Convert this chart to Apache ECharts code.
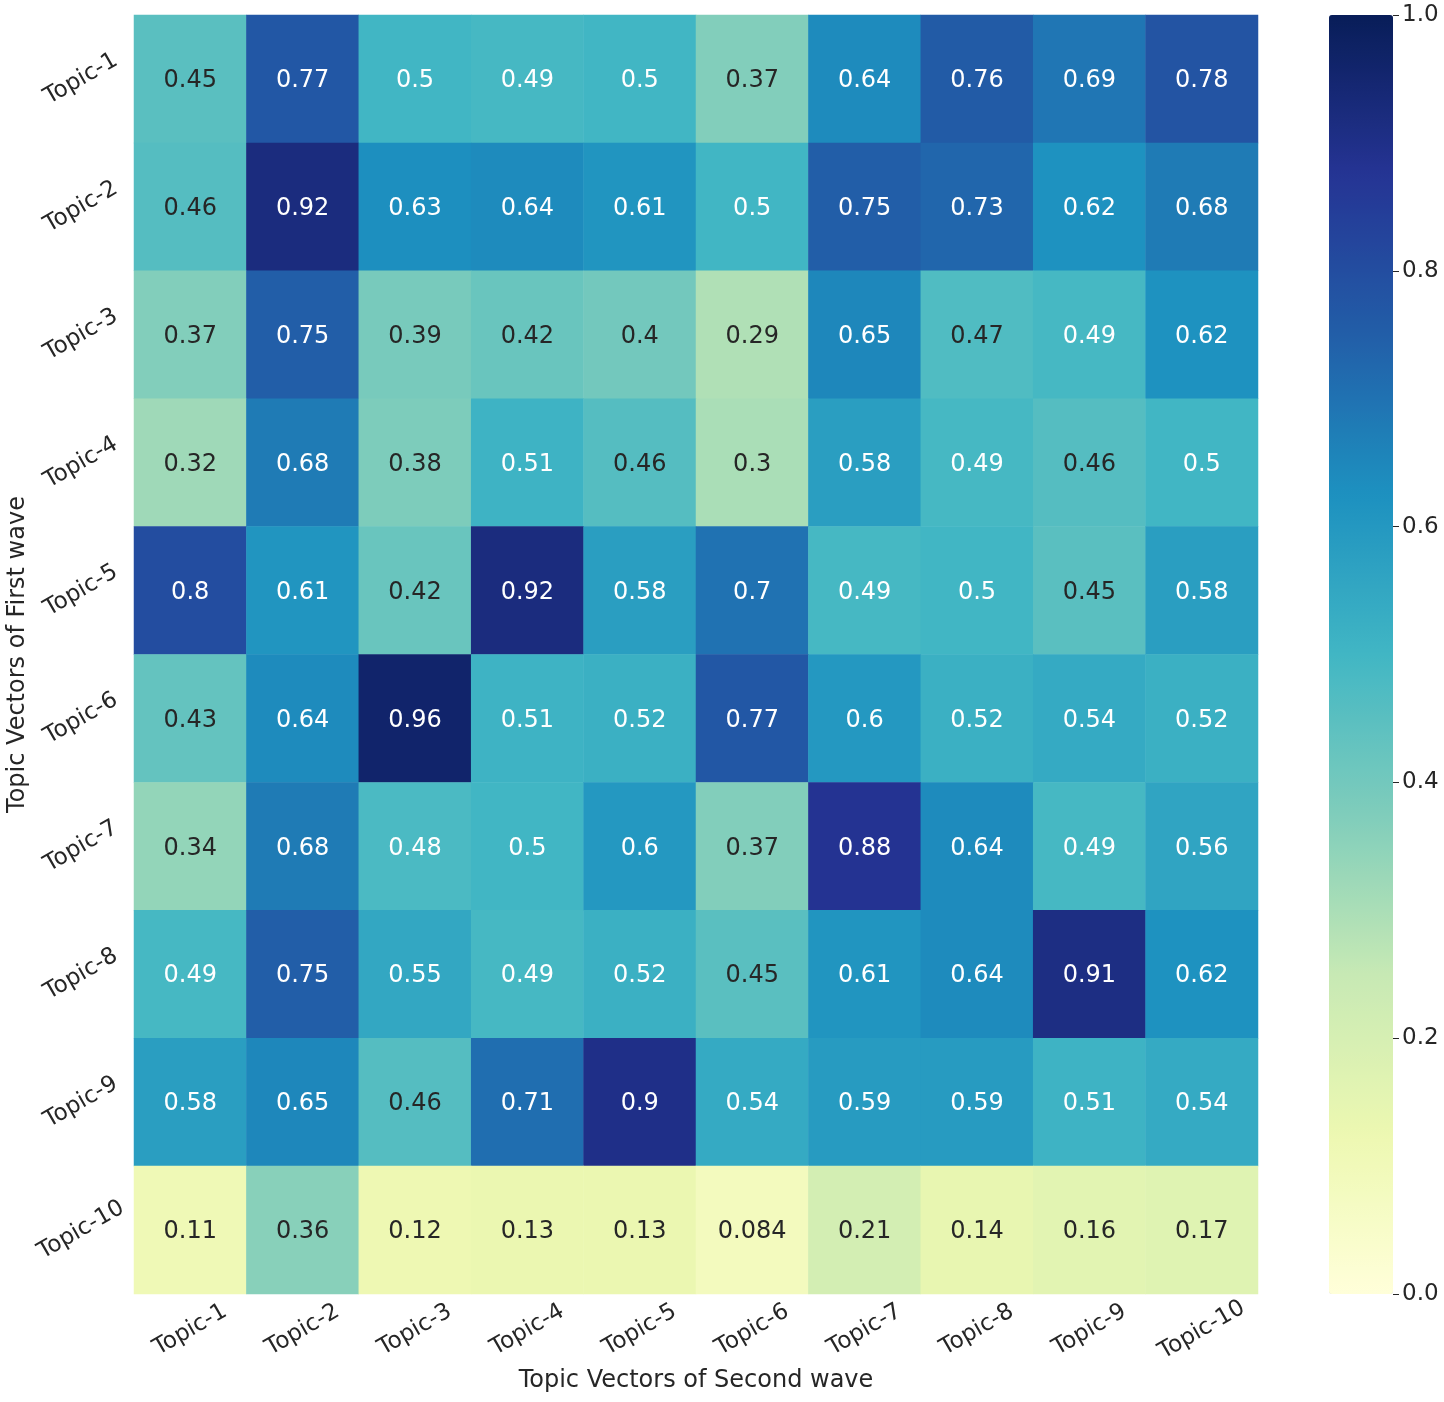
<!DOCTYPE html>
<html lang="en">
<head>
  <meta charset="UTF-8">
  <title>Topic vector similarity</title>
  <script src="https://cdn.jsdelivr.net/npm/echarts@6/dist/echarts.min.js"></script>
  <style>
    html, body { margin: 0; padding: 0; background: #fff; }
    #chart { width: 1444px; height: 1402px; }
  </style>
</head>
<body>
  <div id="chart"></div>
  <script>
    // categories
    const colTopics = ['Topic-1','Topic-2','Topic-3','Topic-4','Topic-5','Topic-6','Topic-7','Topic-8','Topic-9','Topic-10'];
    const rowTopics = ['Topic-1','Topic-2','Topic-3','Topic-4','Topic-5','Topic-6','Topic-7','Topic-8','Topic-9','Topic-10'];
    // similarity values, one row per first-wave topic
    const row1  = [0.45, 0.77, 0.5, 0.49, 0.5, 0.37, 0.64, 0.76, 0.69, 0.78];
    const row2  = [0.46, 0.92, 0.63, 0.64, 0.61, 0.5, 0.75, 0.73, 0.62, 0.68];
    const row3  = [0.37, 0.75, 0.39, 0.42, 0.4, 0.29, 0.65, 0.47, 0.49, 0.62];
    const row4  = [0.32, 0.68, 0.38, 0.51, 0.46, 0.3, 0.58, 0.49, 0.46, 0.5];
    const row5  = [0.8, 0.61, 0.42, 0.92, 0.58, 0.7, 0.49, 0.5, 0.45, 0.58];
    const row6  = [0.43, 0.64, 0.96, 0.51, 0.52, 0.77, 0.6, 0.52, 0.54, 0.52];
    const row7  = [0.34, 0.68, 0.48, 0.5, 0.6, 0.37, 0.88, 0.64, 0.49, 0.56];
    const row8  = [0.49, 0.75, 0.55, 0.49, 0.52, 0.45, 0.61, 0.64, 0.91, 0.62];
    const row9  = [0.58, 0.65, 0.46, 0.71, 0.9, 0.54, 0.59, 0.59, 0.51, 0.54];
    const row10 = [0.11, 0.36, 0.12, 0.13, 0.13, 0.084, 0.21, 0.14, 0.16, 0.17];
    const rows = [row1, row2, row3, row4, row5, row6, row7, row8, row9, row10];
    // colorbar ticks
    const cbarTicks = [0.0, 0.2, 0.4, 0.6, 0.8, 1.0];

    // YlGnBu
    const palette = ['#ffffd9','#edf8b1','#c7e9b4','#7fcdbb','#41b6c4','#1d91c0','#225ea8','#253494','#081d58'];
    const textDark = '#262626';

    function hexRgb(h) {
      return [1, 3, 5].map(i => parseInt(h.substr(i, 2), 16) / 255);
    }
    // pick annotation colour the way seaborn does (relative luminance)
    function annotColor(v) {
      const p = Math.min(Math.max(v, 0), 1) * (palette.length - 1);
      const i = Math.min(Math.floor(p), palette.length - 2);
      const t = p - i;
      const a = hexRgb(palette[i]), b = hexRgb(palette[i + 1]);
      const lin = a.map((c, k) => {
        const x = c + (b[k] - c) * t;
        return x <= 0.03928 ? x / 12.92 : Math.pow((x + 0.055) / 1.055, 2.4);
      });
      const lum = 0.2126 * lin[0] + 0.7152 * lin[1] + 0.0722 * lin[2];
      return lum > 0.408 ? textDark : '#ffffff';
    }

    const cells = [];
    rows.forEach((r, y) => r.forEach((v, x) => {
      cells.push({ value: [x, y, v], label: { color: annotColor(v) } });
    }));

    const font = 'DejaVu Sans';
    const chart = echarts.init(document.getElementById('chart'));
    chart.setOption({
      animation: false,
      textStyle: { fontFamily: font },
      grid: [
        { left: 134, top: 15, width: 1124, height: 1279, outerBoundsMode: 'none', containLabel: false },
        { left: 1329, top: 15, width: 64, height: 1279, outerBoundsMode: 'none', containLabel: false }
      ],
      xAxis: [{
        type: 'category', data: colTopics, gridIndex: 0,
        axisLine: { show: false }, axisTick: { show: false }, splitLine: { show: false },
        axisLabel: { rotate: 30, fontSize: 23, color: textDark, margin: 36, align: 'center', verticalAlign: 'middle', interval: 0 },
        name: 'Topic Vectors of Second wave', nameLocation: 'middle', nameGap: 75, nameMoveOverlap: false,
        nameTextStyle: { fontSize: 24, color: textDark, fontFamily: font }
      }, {
        type: 'value', gridIndex: 1, show: false, min: 0, max: 1
      }],
      yAxis: [{
        type: 'category', data: rowTopics, gridIndex: 0, inverse: true,
        axisLine: { show: false }, axisTick: { show: false }, splitLine: { show: false },
        axisLabel: { rotate: 30, fontSize: 23, color: textDark, margin: 53, align: 'center', verticalAlign: 'middle', interval: 0 },
        name: 'Topic Vectors of First wave', nameLocation: 'middle', nameGap: 104, nameRotate: 90, nameMoveOverlap: false,
        nameTextStyle: { fontSize: 24, color: textDark, fontFamily: font }
      }, {
        type: 'value', gridIndex: 1, position: 'right', min: 0, max: 1, interval: 0.2,
        axisLine: { show: false, onZero: false }, splitLine: { show: false },
        axisTick: { show: true, length: 6, lineStyle: { color: textDark, width: 1 } },
        axisLabel: { fontSize: 23, color: textDark, margin: 9,
          formatter: v => cbarTicks.some(t => Math.abs(t - v) < 1e-9) ? v.toFixed(1) : '' }
      }],
      visualMap: {
        type: 'continuous', min: 0, max: 1, seriesIndex: 0,
        orient: 'vertical', left: 1329, top: 15, padding: 0,
        itemWidth: 64, itemHeight: 1279, calculable: false, hoverLink: false,
        showLabel: false, text: null,
        inRange: { color: palette }
      },
      series: [{
        type: 'heatmap', xAxisIndex: 0, yAxisIndex: 0,
        data: cells,
        label: { show: true, fontSize: 24, fontFamily: font, offset: [0, 2], formatter: p => String(p.value[2]) },
        itemStyle: { borderWidth: 0 },
        emphasis: { disabled: true }
      }]
    });
  </script>
</body>
</html>
